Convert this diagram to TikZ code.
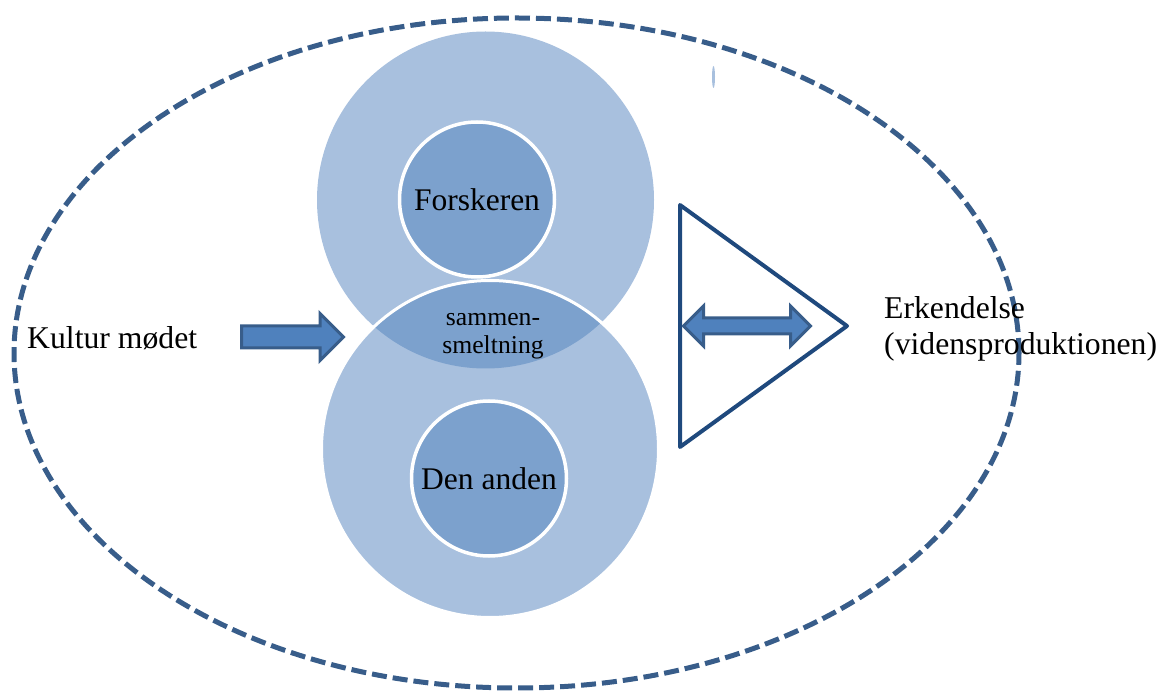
\documentclass[tikz,border=0pt]{standalone}
\usepackage{fontspec}
\setmainfont{Liberation Serif}
\usetikzlibrary{shapes.geometric}
\definecolor{outerc}{HTML}{A8C0DE}
\definecolor{innerc}{HTML}{7CA1CD}
\definecolor{framec}{HTML}{385D8A}
\definecolor{arrowfill}{HTML}{4F81BD}
\definecolor{triline}{HTML}{1F497D}
\tikzset{
  bigcirc/.style={circle, fill=outerc, minimum size=337pt, inner sep=0pt},
  smallcirc/.style={circle, fill=innerc, draw=white, line width=3.5pt, minimum size=155pt, inner sep=0pt, font=\fontsize{31.5}{36}\selectfont},
  lbl/.style={font=\fontsize{31.7}{36}\selectfont, inner sep=0pt},
  blockarrow/.style={fill=arrowfill, draw=framec, line width=3pt, line join=miter},
}
\begin{document}
\begin{tikzpicture}[x=1pt,y=-1pt]
\useasboundingbox (0,0) rectangle (1160,692);
% dashed frame
\node[ellipse, draw=framec, line width=5pt, dash pattern=on 15pt off 6pt, minimum width=1005pt, minimum height=670pt, inner sep=0pt] (frame) at (516.5,353) {};
% big circles
\node[bigcirc] (top) at (485.5,200) {};
\node[bigcirc] (bot) at (490,449) {};
\begin{scope}
  \clip (485.5,200) circle (168.5);
  \fill[innerc] (490,449) circle (168.5);
\end{scope}
\draw[white, line width=3pt] (490,449) circle (168.5);
% inner circles
\node[smallcirc] (forsk) at (477,199.5) {Forskeren};
\node[smallcirc] (anden) at (489,478.5) {Den anden};
\node[align=center, font=\fontsize{25.7}{28}\selectfont, inner sep=0pt] (lens) at (493,336) {sammen-\\smeltning};
% small mark
\node[ellipse, fill=outerc, minimum width=3pt, minimum height=22pt, inner sep=0pt] (mark) at (713.5,77) {};
% left arrow
\coordinate (kstart) at (241.5,337);
\coordinate (ktip) at (343.5,337);
\draw[blockarrow] (kstart) ++(0,-11) -- ++(78.5,0) -- ++(0,-12.5) -- (ktip) -- ++(-23.5,23.5) -- ++(0,-12.5) -- ++(-78.5,0) -- cycle;
% triangle
\coordinate (ta) at (680,205);
\coordinate (tb) at (847,326);
\coordinate (tc) at (680,447);
\draw[triline, line width=4pt, line join=round] (ta) -- (tb) -- (tc) -- cycle;
% double arrow
\coordinate (dl) at (683.5,326);
\coordinate (dr) at (810.5,326);
\draw[blockarrow] (dl) -- ++(20,-20) -- ++(0,12) -- ++(87,0) -- ++(0,-12) -- (dr) -- ++(-20,20) -- ++(0,-12) -- ++(-87,0) -- ++(0,12) -- cycle;
% labels
\node[lbl, anchor=west] (kultur) at (27,338) {Kultur mødet};
\node[lbl, anchor=west, align=left] (erk) at (884,329) {Erkendelse\\(vidensproduktionen)};
\end{tikzpicture}
\end{document}
